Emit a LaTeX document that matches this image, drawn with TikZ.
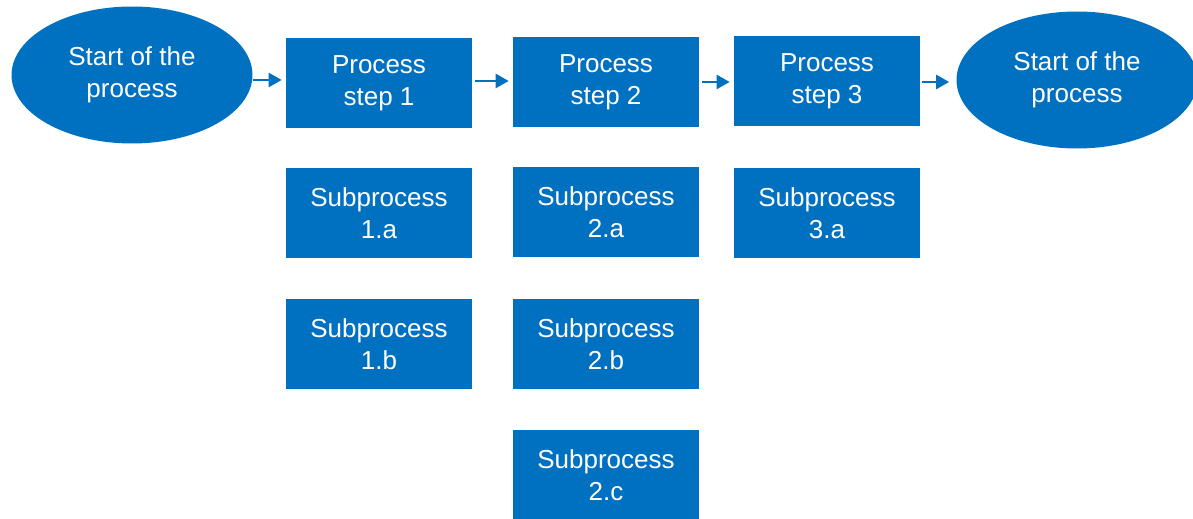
\documentclass[tikz,border=0pt]{standalone}
\usepackage{fontspec}
\setmainfont{Liberation Sans}
\usetikzlibrary{arrows.meta,shapes.geometric}

\definecolor{procblue}{RGB}{0,112,192}

\tikzset{
  stepbox/.style={rectangle, fill=procblue, text=white, align=center,
    minimum width=3.72cm, minimum height=1.8cm, inner sep=0pt,
    font=\fontsize{14.8}{18.2}\selectfont},
  termbox/.style={ellipse, fill=procblue, text=white, align=center,
    minimum width=4.82cm, minimum height=2.74cm, inner sep=0pt,
    font=\fontsize{14.8}{18.2}\selectfont},
  flow/.style={draw=procblue, line width=0.05cm,
    -{Triangle[length=0.26cm,width=0.28cm]},
    shorten <=0.06cm, shorten >=0.08cm}
}

\begin{document}
\begin{tikzpicture}[x=0.02cm, y=-0.02cm]
        \useasboundingbox (0,0) rectangle (1193,519);

        % main row
        \node[termbox] (start) at (132,75) {Start of the\\process};
        \node[stepbox] (p1) at (379,83) {Process\\step 1};
        \node[stepbox] (p2) at (606,82) {Process\\step 2};
        \node[stepbox] (p3) at (827,81) {Process\\step 3};
        \node[termbox] (stop) at (1077,80) {Start of the\\process};

        % subprocesses
        \node[stepbox] (s1a) at (379,213) {Subprocess\\1.a};
        \node[stepbox] (s1b) at (379,344) {Subprocess\\1.b};
        \node[stepbox] (s2a) at (606,212) {Subprocess\\2.a};
        \node[stepbox] (s2b) at (606,344) {Subprocess\\2.b};
        \node[stepbox] (s2c) at (606,475) {Subprocess\\2.c};
        \node[stepbox] (s3a) at (827,213) {Subprocess\\3.a};

        % connectors
        \draw[flow, shorten <=0pt] (start.east |- 0,80) -- (p1.west |- 0,80);
        \draw[flow] (p1.east |- 0,81) -- (p2.west |- 0,81);
        \draw[flow] (p2.east |- 0,82) -- (p3.west |- 0,82);
        \draw[flow, shorten <=0.04cm, shorten >=0.14cm] (p3.east |- 0,82) -- (stop.west |- 0,82);
    \end{tikzpicture}
\end{document}
